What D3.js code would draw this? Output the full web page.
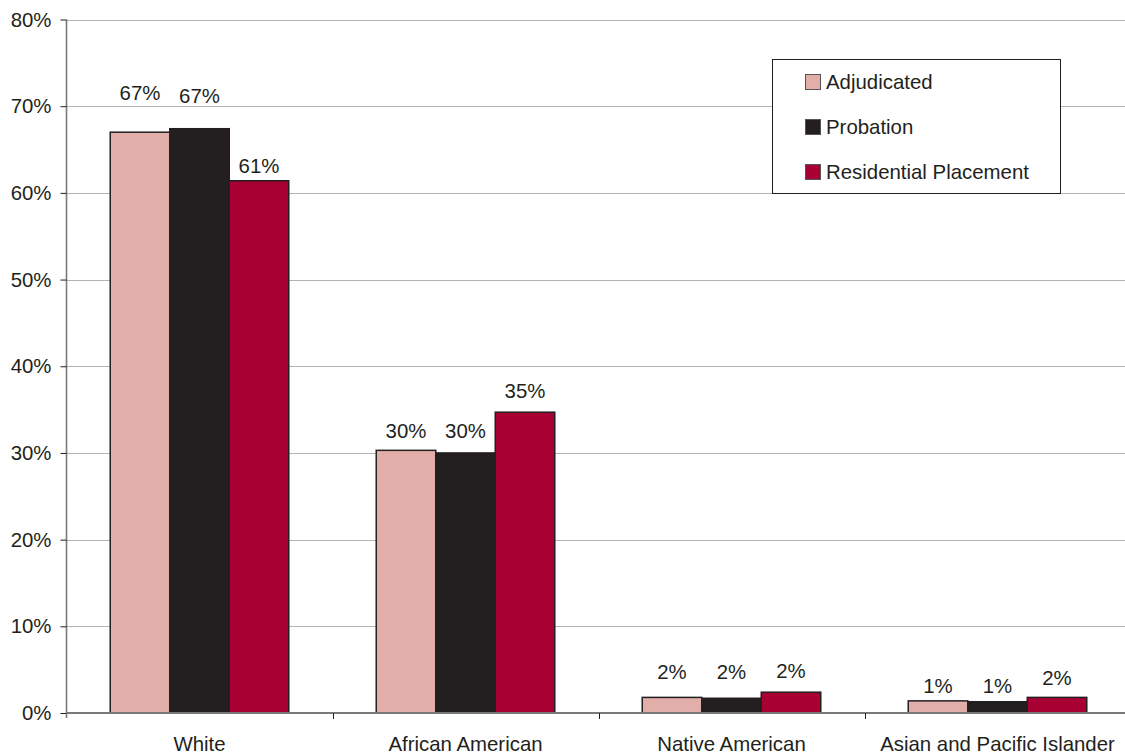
<!DOCTYPE html>
<html>
<head>
<meta charset="utf-8">
<script src="https://cdn.jsdelivr.net/npm/d3@7/dist/d3.min.js"></script>
<style>
  html, body { margin: 0; padding: 0; background: #ffffff; }
  svg { display: block; }
  text { font-family: "Liberation Sans", Arial, sans-serif; fill: #231f20; }
</style>
</head>
<body>
<svg id="chart" width="1125" height="756"></svg>
<script>
// Share of youth by race at each stage of the juvenile justice process (%)
const categories = ["White", "African American", "Native American", "Asian and Pacific Islander"];
const seriesNames = ["Adjudicated", "Probation", "Residential Placement"];
const adjudicated = [67.0, 30.3, 1.8, 1.4];
const probation = [67.4, 30.0, 1.7, 1.3];
const residential = [61.4, 34.7, 2.4, 1.8];
const yTicks = [0, 10, 20, 30, 40, 50, 60, 70, 80];

// Pixel gap between each bar top and the centre of its value label
const labelGap = [
  [39, 33, 15],
  [19, 22, 21],
  [25, 26, 21],
  [15, 16, 19]
];

const seriesValues = [adjudicated, probation, residential];
const colors = ["#e2aeaa", "#231f20", "#a80032"];
const ink = "#231f20";
const fontSize = 20.4;

const svg = d3.select("#chart");
const plot = { left: 66.5, right: 1130.5, top: 19.5, bottom: 713 };

const x = d3.scaleBand().domain(categories).range([plot.left, plot.right]).paddingInner(0).paddingOuter(0);
const xs = d3.scaleBand().domain(seriesNames).range([0, x.bandwidth()]).paddingInner(0).paddingOuter(0.735);
const y = d3.scaleLinear().domain([0, 80]).range([plot.bottom, plot.top]);

// Horizontal gridlines
svg.append("g")
  .selectAll("line")
  .data(yTicks.filter(d => d > 0))
  .join("line")
  .attr("x1", plot.left).attr("x2", plot.right)
  .attr("y1", d => Math.round(y(d)) + 0.5).attr("y2", d => Math.round(y(d)) + 0.5)
  .attr("stroke", "#b4b4b4").attr("stroke-width", 1);

// Y axis
const yAxis = svg.append("g")
  .attr("transform", `translate(${plot.left},0)`)
  .call(d3.axisLeft(y).tickValues(yTicks).tickSize(6).tickPadding(9).tickFormat(d => d + "%"));
yAxis.select(".domain").attr("stroke", "#7a7a7a").attr("stroke-width", 1.6)
  .attr("d", `M0,${plot.top}V${plot.bottom + 5}`);
yAxis.selectAll(".tick line").attr("stroke", ink).attr("stroke-width", 1);
yAxis.selectAll(".tick text").attr("font-size", fontSize).style("fill", ink);

// Bars
const groups = svg.append("g")
  .selectAll("g")
  .data(categories)
  .join("g")
  .attr("transform", d => `translate(${x(d)},0)`);

groups.selectAll("rect")
  .data((c, ci) => seriesNames.map((s, si) => ({ s, si, ci, v: seriesValues[si][ci] })))
  .join("rect")
  .attr("x", d => xs(d.s))
  .attr("width", xs.bandwidth())
  .attr("y", d => y(d.v))
  .attr("height", d => y(0) - y(d.v))
  .attr("fill", d => colors[d.si])
  .attr("stroke", ink)
  .attr("stroke-width", 1.5);

// Value labels
groups.selectAll("text.value")
  .data((c, ci) => seriesNames.map((s, si) => ({ s, si, ci, v: seriesValues[si][ci] })))
  .join("text")
  .attr("class", "value")
  .attr("x", d => xs(d.s) + xs.bandwidth() / 2)
  .attr("y", d => y(d.v) - labelGap[d.ci][d.si])
  .attr("text-anchor", "middle")
  .attr("dominant-baseline", "central")
  .attr("font-size", fontSize)
  .text(d => d3.format(".0f")(d.v) + "%");

// X axis with category separators
const xAxisG = svg.append("g").attr("transform", `translate(0,${plot.bottom})`);
xAxisG.append("line")
  .attr("x1", plot.left).attr("x2", plot.right)
  .attr("y1", 0).attr("y2", 0)
  .attr("stroke", "#7a7a7a").attr("stroke-width", 1.8);
xAxisG.selectAll("line.sep")
  .data(categories.slice(1))
  .join("line")
  .attr("class", "sep")
  .attr("x1", d => Math.round(x(d)) + 0.5).attr("x2", d => Math.round(x(d)) + 0.5)
  .attr("y1", 0).attr("y2", 6)
  .attr("stroke", ink).attr("stroke-width", 1);
xAxisG.selectAll("text")
  .data(categories)
  .join("text")
  .attr("x", d => x(d) + x.bandwidth() / 2)
  .attr("y", 31)
  .attr("text-anchor", "middle")
  .attr("dominant-baseline", "central")
  .attr("font-size", fontSize)
  .text(d => d);

// Legend
const legend = svg.append("g");
legend.append("rect")
  .attr("x", 772.5).attr("y", 59.5).attr("width", 288).attr("height", 134)
  .attr("fill", "#ffffff").attr("stroke", ink).attr("stroke-width", 1);
const items = legend.selectAll("g.item")
  .data(seriesNames)
  .join("g")
  .attr("class", "item")
  .attr("transform", (d, i) => `translate(805,${82 + i * 45})`);
items.append("rect")
  .attr("x", 0.5).attr("y", -7.5).attr("width", 15).attr("height", 15)
  .attr("fill", (d, i) => colors[i])
  .attr("stroke", "#555").attr("stroke-width", 1);
items.append("text")
  .attr("x", 21).attr("y", 0)
  .attr("dominant-baseline", "central")
  .attr("font-size", fontSize)
  .text(d => d);
</script>
</body>
</html>
